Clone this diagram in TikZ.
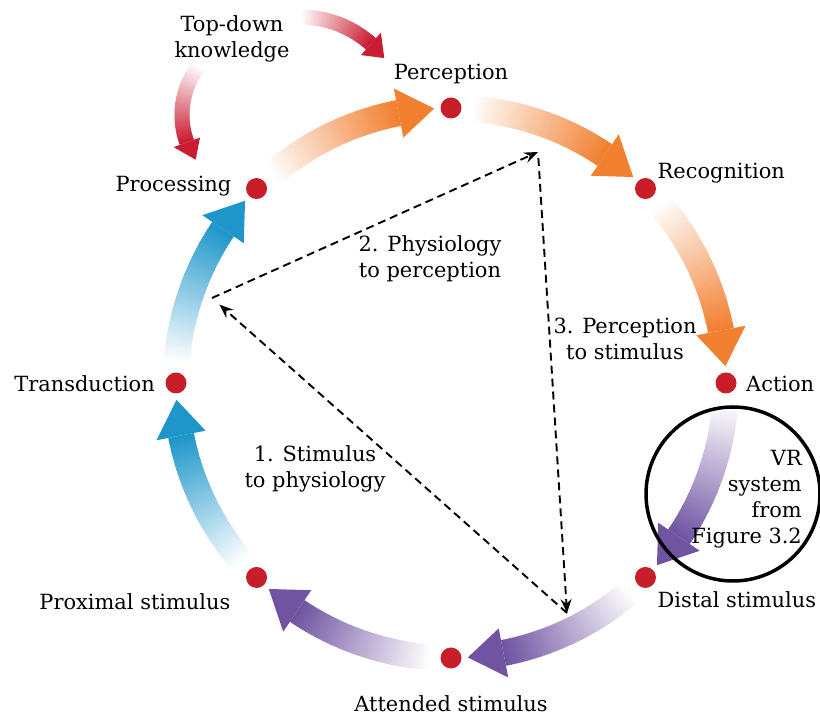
\documentclass[tikz,border=0pt]{standalone}
\usepackage{fontspec}
\setmainfont{DejaVu Serif}
\usetikzlibrary{arrows.meta,positioning}

\definecolor{dotred}{RGB}{200,30,42}
\definecolor{percorange}{RGB}{241,128,48}
\definecolor{stimpurple}{RGB}{112,84,162}
\definecolor{physblue}{RGB}{30,150,202}
\definecolor{knowred}{RGB}{202,28,50}

\newcommand{\fadearrow}[8]{%
  \begin{scope}[shift={(#2)}]
    \foreach \k in {0,...,47}{%
      \pgfmathsetmacro{\angA}{#4+(#5-#4)*\k/48}%
      \pgfmathsetmacro{\angB}{#4+(#5-#4)*min(\k+1.5,48)/48}%
      \pgfmathsetmacro{\pcmix}{100*\k/47}%
      \fill[#1!\pcmix!white] (\angA:{#3+#7}) arc[start angle=\angA,end angle=\angB,radius={#3+#7}]
        -- (\angB:{#3-#7}) arc[start angle=\angB,end angle=\angA,radius={#3-#7}] -- cycle;
    }
    \fill[#1] (#5:{#3+#8}) -- (#6:#3) -- (#5:{#3-#8}) -- cycle;
  \end{scope}}

\begin{document}
\begin{tikzpicture}
[x=1bp,y=1bp,
dot/.style={circle,fill=dotred,minimum size=21bp,inner sep=0pt},
lbl/.style={inner sep=0pt,font=\fontsize{21}{26}\selectfont},
note/.style={lbl,align=center},
link/.style={line width=1.9bp,dash pattern=on 8bp off 5bp,-{Stealth[length=14bp,width=11bp,inset=5bp]}},
]
\useasboundingbox (0,0) rectangle (820,717);
\coordinate (c) at (451,334);
\coordinate (kc1) at (300,593);
\coordinate (kc2) at (262,602);

\fadearrow{percorange}{c}{275}{131}{101}{93.5}{13}{25}
\fadearrow{percorange}{c}{275}{86}{56}{48.5}{13}{25}
\fadearrow{percorange}{c}{275}{41}{11}{3.5}{13}{25}
\fadearrow{stimpurple}{c}{275}{-4}{-34}{-41.5}{13}{25}
\fadearrow{stimpurple}{c}{275}{-49}{-79}{-86.5}{13}{25}
\fadearrow{stimpurple}{c}{275}{-94}{-124}{-131.5}{13}{25}
\fadearrow{physblue}{c}{275}{-139}{-169}{-176.5}{13}{25}
\fadearrow{physblue}{c}{275}{176}{146}{138.5}{13}{25}
\fadearrow{knowred}{kc1}{107}{90}{48.5}{38}{7.5}{15}
\fadearrow{knowred}{kc2}{80}{142}{200}{214}{7.5}{14}

\foreach \ang/\nm in {90/perc,45/recog,0/act,-45/dist,-90/att,-135/prox,180/trans,135/proc}
  \node[dot] (\nm) at ([shift={(\ang:275)}]c) {};

\coordinate (v1) at (212,419);
\coordinate (v2) at (538,565);
\coordinate (v3) at (567,104);
\draw[link] (v1) -- (v2);
\draw[link,shorten <=6bp] (v2) -- (v3);
\draw[link,shorten >=10bp] (v3) -- (v1);

\node[lbl,anchor=base] (perc-txt) at ([shift={(0,28)}]perc) {Perception};
\node[lbl,anchor=base west] (recog-txt) at ([shift={(12,10)}]recog) {Recognition};
\node[lbl,anchor=base west] (act-txt) at ([shift={(20,-9)}]act) {Action};
\node[lbl,anchor=base west] (dist-txt) at ([shift={(12,-30)}]dist) {Distal stimulus};
\node[lbl,anchor=base] (att-txt) at ([shift={(0,-54)}]att) {Attended stimulus};
\node[lbl,anchor=base east] (prox-txt) at ([shift={(-26,-32)}]prox) {Proximal stimulus};
\node[lbl,anchor=base east] (trans-txt) at ([shift={(-21,-9)}]trans) {Transduction};
\node[lbl,anchor=base east] (proc-txt) at ([shift={(-25,-3)}]proc) {Processing};

\node[note] (know) at (232,678) {Top-down\\knowledge};
\node[note] (physperc) at (430,458) {2. Physiology\\to perception};
\node[note] (percstim) at (625,378) {3. Perception\\to stimulus};
\node[note] (stimphys) at (315,248) {1. Stimulus\\to physiology};

\node[draw,circle,line width=3.5bp,minimum size=174bp] (vr) at (733,223) {};
\node[lbl,align=right,anchor=east] (vr-txt) at (802,218) {VR\\system\\from\\Figure 3.2};
\end{tikzpicture}
\end{document}
